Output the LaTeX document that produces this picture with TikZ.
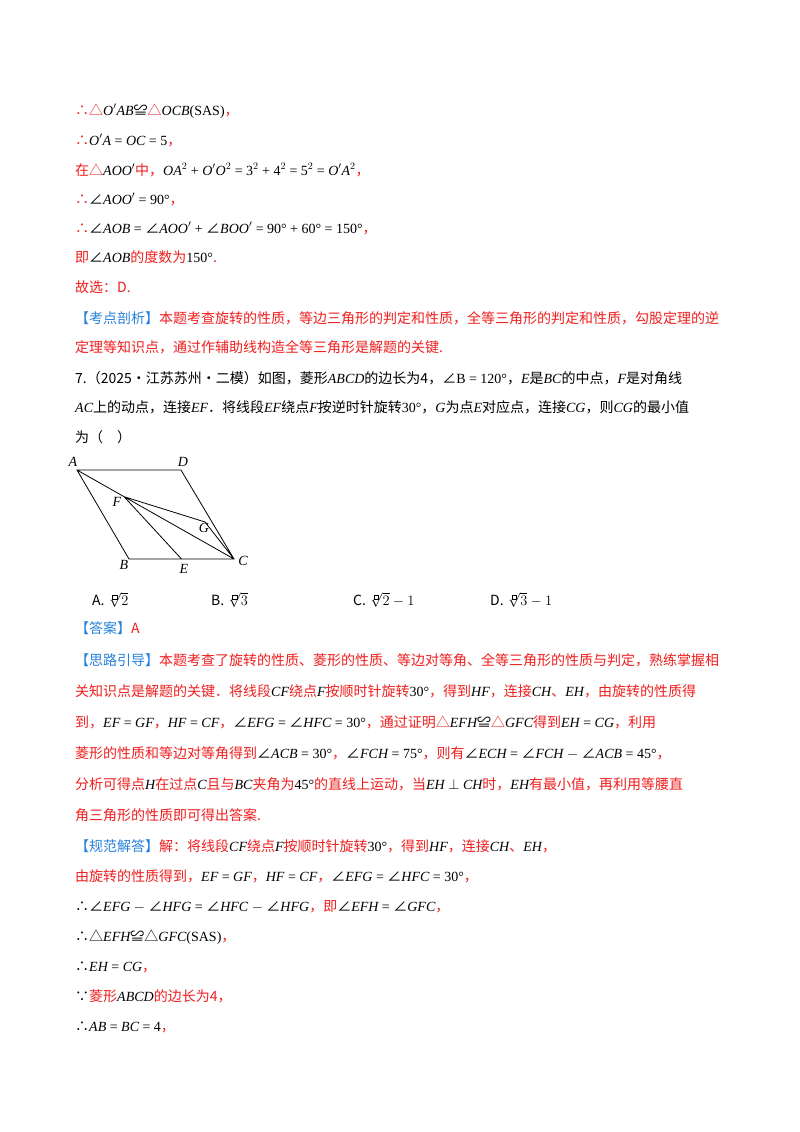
\documentclass[tikz,border=0pt]{standalone}
\usepackage{fontspec}
\setmainfont{Noto Sans CJK SC}
\newfontfamily\lsf{Liberation Serif}
\usetikzlibrary{calc}
\usepackage{xcolor}
\definecolor{rd}{RGB}{240,30,30}
\definecolor{bl}{RGB}{40,130,220}
\newcommand\mm[1]{\textcolor{black}{\lsf\itshape #1}}
\newcommand\nn[1]{\textcolor{black}{\lsf #1}}
\newcommand\bk[1]{\textcolor{black}{#1}}
\newcommand\bb[1]{\textcolor{bl}{#1}}
\newcommand\pr{$^{\prime}$}
\newcommand\sqb{\fbox{\rule{0pt}{2pt}\hspace{2pt}}}
\setlength{\fboxsep}{1pt}\setlength{\fboxrule}{0.4pt}
\tikzset{ln/.style={anchor=base west,inner sep=0pt,text=rd,font=\fontsize{14}{17}\selectfont},
lab/.style={font=\lsf\itshape\fontsize{14}{16}\selectfont,inner sep=1pt},
seg/.style={line width=0.8pt}}
\begin{document}
\begin{tikzpicture}[x=1pt,y=-1pt]
\useasboundingbox[fill=white] (0,0) rectangle (800,1132);
\node[ln] (l1) at (75,115) {∴△\mm{O\pr AB}\bk{≌}△\mm{OCB}\nn{(SAS)}，};
\node[ln] (l2) at (75,145) {∴\mm{O\pr A}\nn{ = }\mm{OC}\nn{ = 5}，};
\node[ln] (l3) at (75,175) {在△\mm{AOO\pr}中，\mm{OA}\nn{$^2$ + }\mm{O\pr O}\nn{$^2$ = 3$^2$ + 4$^2$ = 5$^2$ = }\mm{O\pr A}\nn{$^2$}，};
\node[ln] (l4) at (75,204) {∴\bk{∠}\mm{AOO\pr}\nn{ = 90°}，};
\node[ln] (l5) at (75,233) {∴\bk{∠}\mm{AOB}\nn{ = }\bk{∠}\mm{AOO\pr}\nn{ + }\bk{∠}\mm{BOO\pr}\nn{ = 90° + 60° = 150°}，};
\node[ln] (l6) at (75,262) {即\bk{∠}\mm{AOB}的度数为\nn{150°}.};
\node[ln] (l7) at (75,292) {故选：D.};
\node[ln] (l8) at (75,323) {\bb{【考点剖析】}本题考查旋转的性质，等边三角形的判定和性质，全等三角形的判定和性质，勾股定理的逆};
\node[ln] (l9) at (75,352) {定理等知识点，通过作辅助线构造全等三角形是解题的关键.};
\node[ln,text=black] (l10) at (75,383) {7.（2025·江苏苏州·二模）如图，菱形\mm{ABCD}的边长为4，∠\nn{B = 120°}，\mm{E}是\mm{BC}的中点，\mm{F}是对角线};
\node[ln,text=black] (l11) at (75,412) {\mm{AC}上的动点，连接\mm{EF}．将线段\mm{EF}绕点\mm{F}按逆时针旋转\nn{30°}，\mm{G}为点\mm{E}对应点，连接\mm{CG}，则\mm{CG}的最小值};
\node[ln,text=black] (l12) at (75,442) {为（\quad ）};
% figure
\coordinate (A) at (77,470);
\coordinate (D) at (181,470);
\coordinate (B) at (129,559);
\coordinate (C) at (234,559);
\coordinate (E) at ($(B)!0.5!(C)$);
\coordinate (F) at ($(A)!0.3!(C)$);
\coordinate (G) at ($(F)!1!30:(E)$);
\draw[seg] (A)--(D)--(C)--(B)--cycle (A)--(C) (F)--(E) (F)--(G)--(C);
\node[lab] (nA) at (73,462) {A};
\node[lab] (nD) at (183,462) {D};
\node[lab] (nB) at (124,565) {B};
\node[lab] (nC) at (243,561) {C};
\node[lab] (nE) at (184,569) {E};
\node[lab] (nF) at (117,502) {F};
\node[lab] (nG) at (204,528) {G};
\node[ln,text=black] (cA) at (92,605) {A.\;\nn{$\sqrt[\sqb]{2}$}};
\node[ln,text=black] (cB) at (211,605) {B.\;\nn{$\sqrt[\sqb]{3}$}};
\node[ln,text=black] (cC) at (353,605) {C.\;\nn{$\sqrt[\sqb]{2}-1$}};
\node[ln,text=black] (cD) at (490,605) {D.\;\nn{$\sqrt[\sqb]{3}-1$}};
\node[ln] (a1) at (75,633) {\bb{【答案】}A};
\node[ln] (a2) at (75,665) {\bb{【思路引导】}本题考查了旋转的性质、菱形的性质、等边对等角、全等三角形的性质与判定，熟练掌握相};
\node[ln] (a3) at (75,696) {关知识点是解题的关键．将线段\mm{CF}绕点\mm{F}按顺时针旋转\nn{30°}，得到\mm{HF}，连接\mm{CH}、\mm{EH}，由旋转的性质得};
\node[ln] (a4) at (75,727) {到，\mm{EF}\nn{ = }\mm{GF}，\mm{HF}\nn{ = }\mm{CF}，\bk{∠}\mm{EFG}\nn{ = }\bk{∠}\mm{HFC}\nn{ = 30°}，通过证明△\mm{EFH}\bk{≌}△\mm{GFC}得到\mm{EH}\nn{ = }\mm{CG}，利用};
\node[ln] (a5) at (75,758) {菱形的性质和等边对等角得到\bk{∠}\mm{ACB}\nn{ = 30°}，\bk{∠}\mm{FCH}\nn{ = 75°}，则有\bk{∠}\mm{ECH}\nn{ = }\bk{∠}\mm{FCH}\nn{ $-$ }\bk{∠}\mm{ACB}\nn{ = 45°}，};
\node[ln] (a6) at (75,789) {分析可得点\mm{H}在过点\mm{C}且与\mm{BC}夹角为\nn{45°}的直线上运动，当\mm{EH}\nn{ $\perp$ }\mm{CH}时，\mm{EH}有最小值，再利用等腰直};
\node[ln] (a7) at (75,820) {角三角形的性质即可得出答案.};
\node[ln] (s1) at (75,851) {\bb{【规范解答】}解：将线段\mm{CF}绕点\mm{F}按顺时针旋转\nn{30°}，得到\mm{HF}，连接\mm{CH}、\mm{EH}，};
\node[ln] (s2) at (75,881) {由旋转的性质得到，\mm{EF}\nn{ = }\mm{GF}，\mm{HF}\nn{ = }\mm{CF}，\bk{∠}\mm{EFG}\nn{ = }\bk{∠}\mm{HFC}\nn{ = 30°}，};
\node[ln] (s3) at (75,911) {\bk{∴∠}\mm{EFG}\nn{ $-$ }\bk{∠}\mm{HFG}\nn{ = }\bk{∠}\mm{HFC}\nn{ $-$ }\bk{∠}\mm{HFG}，即\bk{∠}\mm{EFH}\nn{ = }\bk{∠}\mm{GFC}，};
\node[ln] (s4) at (75,941) {\bk{∴△}\mm{EFH}\bk{≌△}\mm{GFC}\nn{(SAS)}，};
\node[ln] (s5) at (75,971) {\bk{∴}\mm{EH}\nn{ = }\mm{CG}，};
\node[ln] (s6) at (75,1001) {\bk{∵}菱形\mm{ABCD}的边长为4，};
\node[ln] (s7) at (75,1031) {\bk{∴}\mm{AB}\nn{ = }\mm{BC}\nn{ = 4}，};
\end{tikzpicture}
\end{document}
